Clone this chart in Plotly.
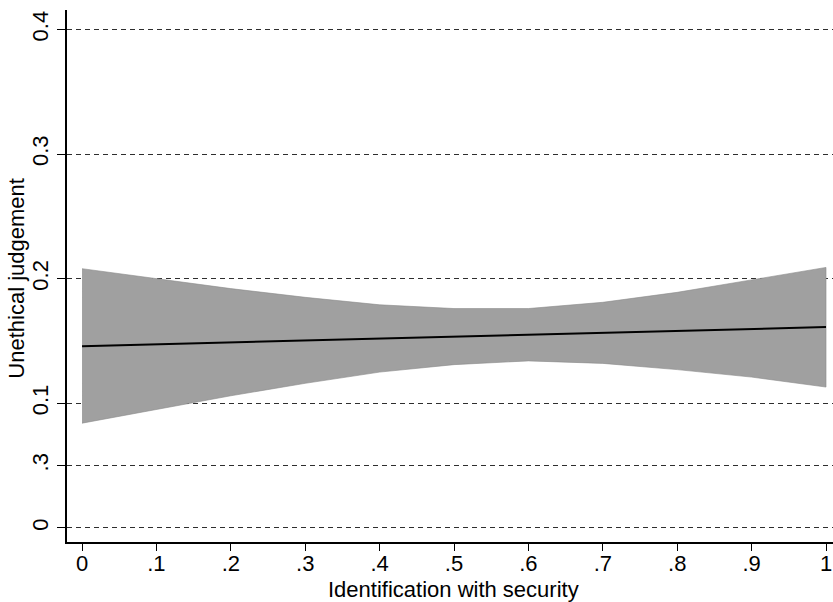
import plotly.graph_objects as go

# Data
x_vals = [0.0, 0.1, 0.2, 0.3, 0.4, 0.5, 0.6, 0.7, 0.8, 0.9, 1.0]
fit = [0.1458, 0.1473, 0.1489, 0.1504, 0.1519, 0.1535, 0.1550, 0.1565, 0.1580, 0.1596, 0.1611]
ci_upper = [0.208, 0.200, 0.192, 0.185, 0.179, 0.176, 0.176, 0.181, 0.189, 0.199, 0.209]
ci_lower = [0.084, 0.095, 0.106, 0.116, 0.125, 0.131, 0.134, 0.132, 0.127, 0.121, 0.113]

x_tickvals = [0, 0.1, 0.2, 0.3, 0.4, 0.5, 0.6, 0.7, 0.8, 0.9, 1.0]
x_ticktext = ["0", ".1", ".2", ".3", ".4", ".5", ".6", ".7", ".8", ".9", "1"]
y_tickvals = [0, 0.05, 0.1, 0.2, 0.3, 0.4]
y_ticktext = ["0", ".3", "0.1", "0.2", "0.3", "0.4"]

x_title = "Identification with security"
y_title = "Unethical judgement"

FONT = "Liberation Sans, Arial, Helvetica, sans-serif"

fig = go.Figure()
fig.add_trace(go.Scatter(
    x=x_vals + x_vals[::-1],
    y=ci_upper + ci_lower[::-1],
    fill="toself",
    fillcolor="#a0a0a0",
    line=dict(color="#8a8a8a", width=0.6),
    mode="lines",
    hoverinfo="skip",
    showlegend=False,
))
fig.add_trace(go.Scatter(
    x=x_vals, y=fit, mode="lines",
    line=dict(color="black", width=2),
    showlegend=False,
))

fig.update_layout(
    width=833, height=602,
    margin=dict(l=67, r=0, t=10, b=60, autoexpand=False),
    paper_bgcolor="white",
    plot_bgcolor="white",
    font=dict(family=FONT, size=22, color="black"),
    xaxis=dict(
        range=[-0.0202, 1.0094],
        tickvals=x_tickvals, ticktext=x_ticktext,
        showgrid=False, zeroline=False,
        showline=True, linecolor="black", linewidth=1.6,
        ticks="outside", ticklen=7, tickwidth=1.2, tickcolor="black",
        tickfont=dict(size=22),
        ticklabeloverflow="allow",
        ticklabelstandoff=-6,
        automargin=False,
    ),
    yaxis=dict(
        range=[-0.01135, 0.4156],
        tickvals=y_tickvals, ticktext=y_ticktext,
        showgrid=True, gridcolor="#2e2e2e", gridwidth=1.3, griddash="5px,4px",
        zeroline=False,
        showline=True, linecolor="black", linewidth=1.6,
        ticks="outside", ticklen=8, tickwidth=1.2, tickcolor="black",
        tickangle=-90,
        tickfont=dict(size=22),
        ticklabeloverflow="allow",
        automargin=False,
    ),
    annotations=[
        dict(text=x_title, xref="paper", yref="paper", x=0.505, y=0,
             xanchor="center", yanchor="top", yshift=-33, showarrow=False,
             font=dict(size=22)),
        dict(text=y_title, xref="paper", yref="paper", x=0, y=0.495,
             xanchor="center", yanchor="middle", xshift=-50, textangle=-90,
             showarrow=False, font=dict(size=22)),
    ],
)

fig.write_html(
    "out.html",
    config={"displayModeBar": False},
    post_script="document.body.style.margin='0';document.body.style.overflow='hidden';",
)
